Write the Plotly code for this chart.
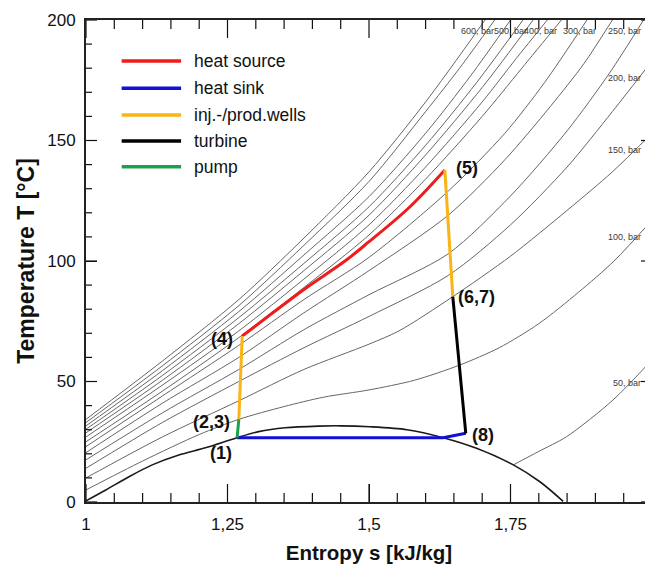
import plotly.graph_objects as go

# ---------------- data ----------------
# saturation dome of CO2
dome_s = [1.0, 1.035, 1.076, 1.117, 1.164, 1.211, 1.267, 1.305, 1.352, 1.411, 1.45, 1.502,
          1.567, 1.631, 1.690, 1.755, 1.802, 1.843]
dome_T = [0.5, 5.0, 10.5, 15.4, 19.5, 22.5, 26.7, 29.2, 30.8, 31.5, 31.6, 31.2,
          30.0, 26.7, 22.3, 15.4, 8.4, 0.3]

# isobars (entropy s in kJ/kg, temperature T in degC), lowest to highest pressure
p50_s = [1.755, 1.80, 1.849, 1.931, 2.0]
p50_T = [15.4, 21.0, 27.1, 42.3, 59.0]

p100_s = [1.0, 1.1, 1.2, 1.27, 1.35, 1.42, 1.5, 1.58, 1.66, 1.73, 1.8, 1.87, 1.933, 2.0]
p100_T = [5.0, 17.0, 28.0, 34.3, 39.6, 43.5, 46.5, 50.5, 56.8, 64.0, 74.0, 87.0, 100.0, 117.0]

p150_s = [1.0, 1.135, 1.27, 1.385, 1.5, 1.553, 1.648, 1.75, 1.85, 1.93, 2.0]
p150_T = [10.0, 27.0, 42.0, 55.0, 65.5, 71.0, 85.2, 102.0, 121.0, 137.0, 153.0]

p200_s = [1.0, 1.135, 1.27, 1.385, 1.5, 1.64, 1.75, 1.85, 1.93, 2.0]
p200_T = [14.0, 33.0, 50.0, 64.0, 77.0, 94.0, 115.0, 139.0, 162.0, 183.0]

p250_s = [1.0, 1.135, 1.27, 1.385, 1.5, 1.64, 1.75, 1.85, 1.925, 1.985]
p250_T = [17.5, 37.0, 55.0, 71.5, 86.0, 103.0, 127.0, 154.0, 178.0, 200.0]

p300_s = [1.0, 1.135, 1.27, 1.385, 1.5, 1.64, 1.74, 1.82, 1.88, 1.93]
p300_T = [20.5, 41.0, 60.0, 78.5, 96.0, 119.0, 142.0, 164.0, 182.0, 200.0]

p350_s = [1.0, 1.135, 1.27, 1.385, 1.5, 1.64, 1.74, 1.81, 1.885]
p350_T = [23.0, 44.0, 65.0, 84.0, 101.5, 129.0, 153.0, 174.0, 200.0]

p400_s = [1.0, 1.135, 1.27, 1.385, 1.5, 1.6, 1.7, 1.77, 1.84]
p400_T = [25.0, 46.0, 68.2, 89.0, 110.8, 134.0, 160.0, 180.0, 200.0]

p450_s = [1.0, 1.135, 1.27, 1.385, 1.5, 1.6, 1.7, 1.76, 1.815]
p450_T = [27.0, 48.5, 71.0, 92.5, 115.0, 139.0, 166.0, 184.0, 200.0]

p500_s = [1.0, 1.135, 1.27, 1.385, 1.5, 1.6, 1.7, 1.79]
p500_T = [28.7, 50.5, 74.0, 96.0, 119.0, 144.0, 172.0, 200.0]

p550_s = [1.0, 1.135, 1.27, 1.385, 1.5, 1.6, 1.69, 1.772]
p550_T = [30.2, 52.5, 76.5, 99.0, 122.5, 148.0, 174.0, 200.0]

p600_s = [1.0, 1.135, 1.27, 1.385, 1.5, 1.6, 1.68, 1.75]
p600_T = [31.6, 54.5, 79.0, 102.5, 126.7, 153.0, 177.0, 200.0]

p650_s = [1.0, 1.135, 1.27, 1.385, 1.5, 1.6, 1.66, 1.722]
p650_T = [33.0, 56.5, 81.5, 106.5, 133.0, 162.0, 180.0, 200.0]

p700_s = [1.0, 1.135, 1.27, 1.385, 1.5, 1.6, 1.705]
p700_T = [34.3, 58.5, 84.0, 109.5, 137.0, 166.0, 200.0]

# isobar labels
bar_labels = ["600, bar", "500, bar", "400, bar", "300, bar", "250, bar",
              "200, bar", "150, bar", "100, bar", "50, bar"]
bar_label_s = [1.724, 1.782, 1.835, 1.905, 1.984, 1.984, 1.984, 1.984, 1.984]
bar_label_T = [195.3, 195.3, 195.3, 195.3, 195.3, 175.9, 146.0, 110.0, 49.5]

# cycle segments
heat_source_s = [1.276, 1.33, 1.39, 1.46, 1.5, 1.57, 1.634]
heat_source_T = [68.9, 78.5, 89.0, 100.4, 108.0, 122.0, 137.8]
wells_inj_s = [1.270, 1.276]
wells_inj_T = [34.3, 68.9]
wells_prod_s = [1.634, 1.648]
wells_prod_T = [137.8, 85.2]
turbine_s = [1.648, 1.671]
turbine_T = [85.2, 28.5]
heat_sink_s = [1.671, 1.631, 1.267]
heat_sink_T = [28.5, 26.7, 26.7]
pump_s = [1.267, 1.270]
pump_T = [26.7, 34.3]

# state point labels
state_labels = ["(1)", "(2,3)", "(4)", "(5)", "(6,7)", "(8)"]
state_label_s = [1.238, 1.222, 1.240, 1.673, 1.690, 1.702]
state_label_T = [20.2, 33.3, 67.5, 138.5, 85.2, 27.8]

legend_names = ["heat source", "heat sink", "inj.-/prod.wells", "turbine", "pump"]
legend_colors = ["#ee1c1c", "#1010d8", "#fbb416", "#000000", "#1aa14c"]
legend_T = [183.0, 171.7, 160.6, 149.8, 139.1]

# tick positions
x_major = [1.0, 1.25, 1.5, 1.75, 2.0]
x_minor = [1.05, 1.1, 1.15, 1.2, 1.3, 1.35, 1.4, 1.45, 1.55, 1.6, 1.65, 1.7,
           1.8, 1.85, 1.9, 1.95]
y_major = [0, 50, 100, 150, 200]
y_minor = [10, 20, 30, 40, 60, 70, 80, 90, 110, 120, 130, 140, 160, 170, 180, 190]

# ---------------- figure ----------------
FONT = "Liberation Sans, Arial, sans-serif"
GRAY = "#666666"
TICK = "#111111"
fig = go.Figure()

isobars = [(p50_s, p50_T), (p100_s, p100_T), (p150_s, p150_T), (p200_s, p200_T),
           (p250_s, p250_T), (p300_s, p300_T), (p350_s, p350_T), (p400_s, p400_T),
           (p450_s, p450_T), (p500_s, p500_T), (p550_s, p550_T), (p600_s, p600_T),
           (p650_s, p650_T), (p700_s, p700_T)]
for s, T in isobars:
    fig.add_trace(go.Scatter(x=s, y=T, mode="lines",
                             line=dict(color=GRAY, width=1, shape="spline", smoothing=0.8),
                             showlegend=False, hoverinfo="skip"))

fig.add_trace(go.Scatter(x=dome_s, y=dome_T, mode="lines",
                         line=dict(color="#1a1a1a", width=1.6, shape="spline", smoothing=0.8),
                         showlegend=False, hoverinfo="skip"))

cw = 3
fig.add_trace(go.Scatter(x=heat_sink_s, y=heat_sink_T, mode="lines", line=dict(color=legend_colors[1], width=cw), showlegend=False))
fig.add_trace(go.Scatter(x=heat_source_s, y=heat_source_T, mode="lines", line=dict(color=legend_colors[0], width=cw, shape="spline"), showlegend=False))
fig.add_trace(go.Scatter(x=wells_inj_s, y=wells_inj_T, mode="lines", line=dict(color=legend_colors[2], width=cw), showlegend=False))
fig.add_trace(go.Scatter(x=wells_prod_s, y=wells_prod_T, mode="lines", line=dict(color=legend_colors[2], width=cw), showlegend=False))
fig.add_trace(go.Scatter(x=turbine_s, y=turbine_T, mode="lines", line=dict(color=legend_colors[3], width=cw), showlegend=False))
fig.add_trace(go.Scatter(x=pump_s, y=pump_T, mode="lines", line=dict(color=legend_colors[4], width=cw), showlegend=False))

# inside tick marks on all four sides (lengths in pixels, placed on the axis scales)
for xs, ln in [(x_major, 18), (x_minor, 9)]:
    for xv in xs:
        fig.add_shape(type="line", xref="x", yref="y", x0=xv, x1=xv, ysizemode="pixel", yanchor=0,
                      y0=0, y1=ln, line=dict(color=TICK, width=1.2))
        fig.add_shape(type="line", xref="x", yref="y", x0=xv, x1=xv, ysizemode="pixel", yanchor=200,
                      y0=0, y1=-ln, line=dict(color=TICK, width=1.2))
for ys, ln in [(y_major, 11), (y_minor, 6)]:
    for yv in ys:
        fig.add_shape(type="line", xref="x", yref="y", y0=yv, y1=yv, xsizemode="pixel", xanchor=1,
                      x0=0, x1=ln, line=dict(color=TICK, width=1.2))
        fig.add_shape(type="line", xref="x", yref="y", y0=yv, y1=yv, xsizemode="pixel", xanchor=2,
                      x0=0, x1=-ln, line=dict(color=TICK, width=1.2))

# isobar labels
for txt, s, T in zip(bar_labels, bar_label_s, bar_label_T):
    fig.add_annotation(x=s, y=T, text=txt, showarrow=False, xanchor="right", yanchor="middle",
                       font=dict(family=FONT, size=9, color="#3a3a3a"))

# state labels
for txt, s, T in zip(state_labels, state_label_s, state_label_T):
    fig.add_annotation(x=s, y=T, text="<b>%s</b>" % txt, showarrow=False, xanchor="center", yanchor="middle",
                       font=dict(family=FONT, size=18, color="#111111"))

# legend (drawn in data coordinates)
for name, col, T in zip(legend_names, legend_colors, legend_T):
    fig.add_shape(type="line", x0=1.063, x1=1.168, y0=T, y1=T, line=dict(color=col, width=3.5))
    fig.add_annotation(x=1.188, y=T, text=name, showarrow=False, xanchor="left", yanchor="middle",
                       font=dict(family=FONT, size=17.5, color="#111111"))

# the page body has an 8 px margin, so the figure is 8 px smaller than the window
fig.update_layout(
    width=645, height=558,
    margin=dict(l=78, r=1, t=12, b=64),
    paper_bgcolor="white", plot_bgcolor="white",
    showlegend=False,
    separators=",.",
    xaxis=dict(range=[1, 2], tickmode="linear", tick0=1, dtick=0.25, automargin=False,
               ticklabeloverflow="allow",
               showgrid=False, zeroline=False, showline=True, linecolor="#222222", linewidth=2, mirror=True,
               ticks="inside", ticklen=18, tickwidth=1.2, tickcolor=TICK, ticklabelstandoff=6,
               tickfont=dict(family=FONT, size=17, color="#111111"),
               title=dict(text="<b>Entropy s [kJ/kg]</b>", font=dict(family=FONT, size=20.5, color="#111111"), standoff=12)),
    yaxis=dict(range=[0, 200], tickmode="linear", tick0=0, dtick=50, automargin=False,
               ticklabeloverflow="allow",
               showgrid=False, zeroline=False, showline=True, linecolor="#222222", linewidth=2, mirror=True,
               ticks="inside", ticklen=11, tickwidth=1.2, tickcolor=TICK, ticklabelstandoff=5,
               tickfont=dict(family=FONT, size=17, color="#111111"),
               title=dict(text="<b>Temperature T [°C]</b>", font=dict(family=FONT, size=23, color="#111111"), standoff=6)),
)

fig.write_html("out.html")
